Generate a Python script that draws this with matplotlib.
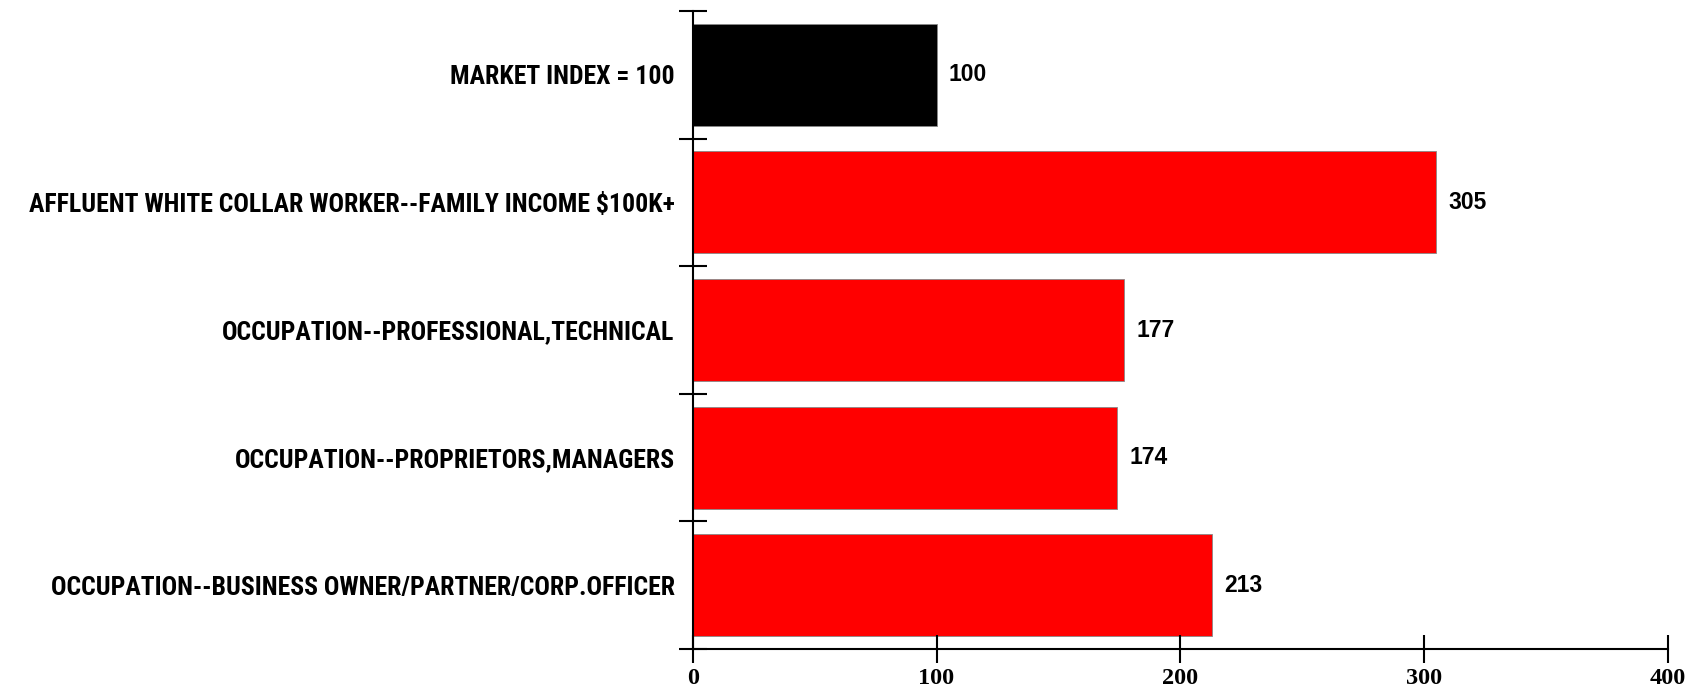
import numpy as np
import matplotlib
matplotlib.use("Agg")
import matplotlib.pyplot as plt

# index values per segment, top to bottom
categories = [
    "MARKET INDEX = 100",
    "AFFLUENT WHITE COLLAR WORKER--FAMILY INCOME $100K+",
    "OCCUPATION--PROFESSIONAL,TECHNICAL",
    "OCCUPATION--PROPRIETORS,MANAGERS",
    "OCCUPATION--BUSINESS OWNER/PARTNER/CORP.OFFICER",
]
values = [100, 305, 177, 174, 213]
bar_colors = ["#000000", "#ff0000", "#ff0000", "#ff0000", "#ff0000"]
x_ticks = [0, 100, 200, 300, 400]

fig = plt.figure(figsize=(16.98, 6.90), dpi=100)
ax = fig.add_axes([0.408, 0.0594, 0.5742, 0.9246])

y = np.arange(len(categories))
ax.barh(y, values, height=0.8, color=bar_colors, edgecolor="#888888", linewidth=0.6)

ax.set_xlim(0, 400)
ax.set_ylim(len(categories) - 0.5, -0.5)

for spine in ["top", "right"]:
    ax.spines[spine].set_visible(False)
for spine in ["left", "bottom"]:
    ax.spines[spine].set_linewidth(1.5)

# boundary ticks on the category axis, labels sit at the bar centres
ax.set_yticks(np.arange(len(categories) + 1) - 0.5)
ax.set_yticklabels([])
ax.tick_params(axis="y", which="major", direction="inout", length=20, width=1.5)
ax.set_yticks(y, minor=True)
ax.set_yticklabels(categories, minor=True, fontsize=18.5, fontweight="bold",
                   family=["Roboto Condensed", "DejaVu Sans"])
ax.tick_params(axis="y", which="minor", length=0, pad=13)

ax.set_xticks(x_ticks)
ax.set_xticklabels([str(t) for t in x_ticks], fontsize=17.5, fontweight="bold",
                   family="Liberation Serif")
ax.tick_params(axis="x", direction="inout", length=20, width=1.5, pad=4)

for yi, v in zip(y, values):
    ax.text(v + 5, yi, str(v), va="center", ha="left", fontsize=16.5,
            fontweight="bold", family="Liberation Sans")

fig.savefig("out.png", dpi=100)
